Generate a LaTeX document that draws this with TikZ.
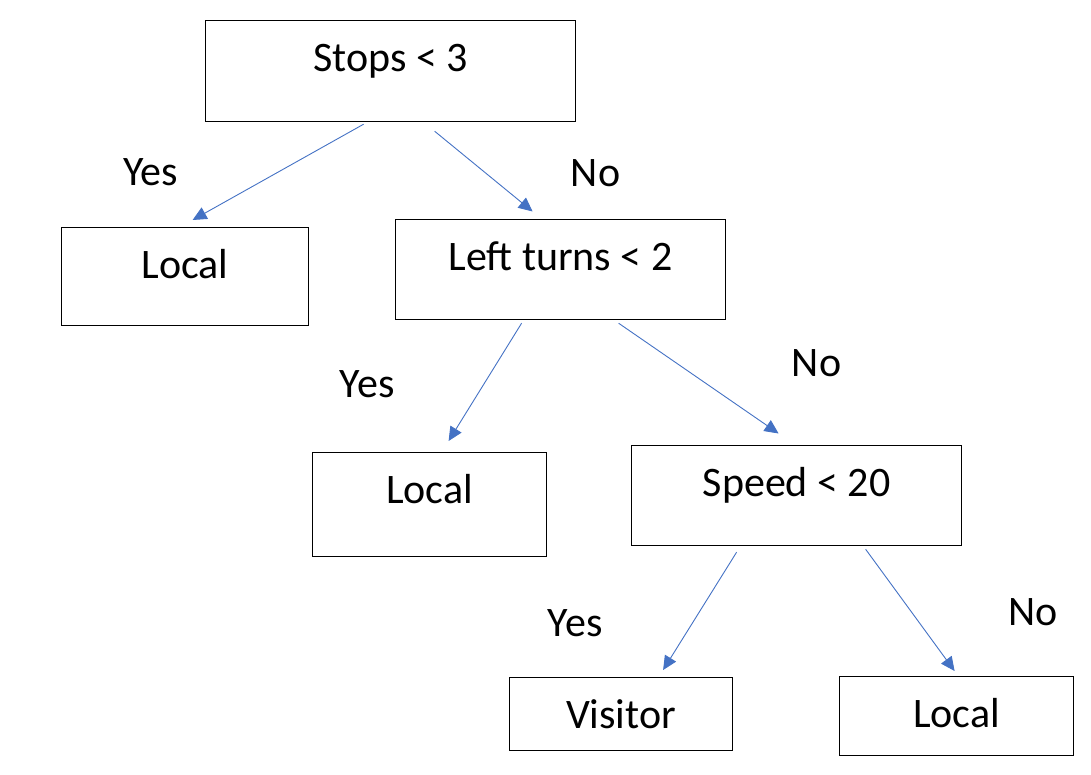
\documentclass[tikz,border=0pt]{standalone}
\usepackage{fontspec}
\setmainfont{Carlito}
\usepackage{tikz}
\usetikzlibrary{positioning,arrows.meta}
\definecolor{officeblue}{HTML}{4472C4}

\begin{document}
\begin{tikzpicture}[x=1pt,y=-1pt,
		every node/.style={font=\fontsize{42}{50}\selectfont},
		box/.style={draw=black,line width=1.2pt,anchor=north west,inner sep=0pt,text height=30pt},
		answer/.style={anchor=base,inner sep=0pt},
		edge/.style={draw=officeblue,line width=0.9pt,-{Triangle[length=14pt,width=13pt]}}]
		
		\useasboundingbox (0,0) rectangle (1091,774);
		
		% Decision boxes
		\node[box,minimum width=370pt,minimum height=101pt,text depth=29pt] (stops) at (205,20) {Stops < 3};
		\node[box,minimum width=330pt,minimum height=100.5pt,text depth=28.5pt] (turns) at (395,218.5) {Left turns < 2};
		\node[box,minimum width=330pt,minimum height=100.5pt,text depth=28.5pt] (speed) at (631,444.5) {Speed < 20};
		
		% Leaves
		\node[box,minimum width=247pt,minimum height=98pt,text depth=26pt] (localA) at (61,227) {Local};
		\node[box,minimum width=234pt,minimum height=104pt,text depth=32pt] (localB) at (312,452) {Local};
		\node[box,minimum width=223pt,minimum height=73pt,text depth=1pt] (visitor) at (509,677) {Visitor};
		\node[box,minimum width=234pt,minimum height=79pt,text depth=7pt] (localC) at (839,676) {Local};
		
		% Branches
		\draw[edge] ([xshift=-27pt,yshift=-2pt]stops.south) -- ([xshift=7.5pt,yshift=7pt]localA.north);
		\draw[edge] ([xshift=44pt,yshift=-9pt]stops.south) -- ([xshift=-28pt,yshift=7pt]turns.north);
		\draw[edge] ([xshift=-39pt,yshift=-3pt]turns.south) -- ([xshift=19pt,yshift=11pt]localB.north);
		\draw[edge] ([xshift=58pt,yshift=-3pt]turns.south) -- ([xshift=-18pt,yshift=11pt]speed.north);
		\draw[edge] ([xshift=-60pt,yshift=-6pt]speed.south) -- ([xshift=42pt,yshift=7pt]visitor.north);
		\draw[edge] ([xshift=69pt,yshift=-3pt]speed.south) -- ([xshift=-2pt,yshift=5pt]localC.north);
		
		% Answers
		\node[answer] (yesA) at (150.5,185) {Yes};
		\node[answer] (noA) at (595.5,186.5) {No};
		\node[answer] (yesB) at (367,397) {Yes};
		\node[answer] (noB) at (816.5,376.5) {No};
		\node[answer] (yesC) at (575,636) {Yes};
		\node[answer] (noC) at (1033,625) {No};
		
	\end{tikzpicture}
\end{document}
